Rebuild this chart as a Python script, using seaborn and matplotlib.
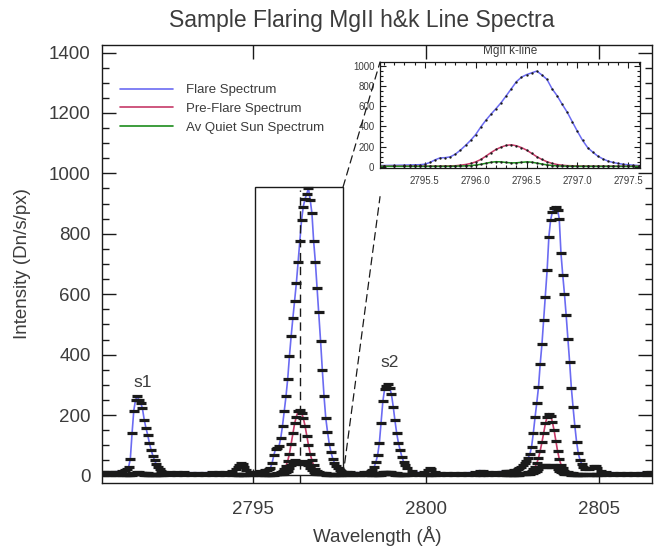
import matplotlib
matplotlib.use("Agg")
import matplotlib.pyplot as plt
from matplotlib.patches import Rectangle, ConnectionPatch
from matplotlib.ticker import MultipleLocator, FormatStrFormatter
import seaborn as sns

# wavelength samples (Angstrom)
wavelength = [
    2790.6, 2790.7, 2790.8, 2790.9, 2791.0, 2791.1, 2791.2, 2791.3,
    # s1
    2791.35, 2791.40, 2791.45, 2791.50, 2791.55, 2791.60, 2791.65, 2791.70, 2791.75, 2791.80, 2791.85,
    2791.90, 2791.95, 2792.00, 2792.05, 2792.10, 2792.15, 2792.20, 2792.25, 2792.30, 2792.35, 2792.40,
    2792.6, 2792.8, 2793.0, 2793.2, 2793.4, 2793.6, 2793.8, 2794.0, 2794.2, 2794.4,
    2794.50, 2794.55, 2794.60, 2794.65, 2794.70, 2794.75, 2794.80, 2794.90, 2795.00, 2795.10, 2795.20, 2795.30,
    # k line
    2795.35, 2795.40, 2795.45, 2795.50, 2795.55, 2795.60, 2795.65, 2795.70, 2795.75, 2795.80, 2795.85,
    2795.90, 2795.95, 2796.00, 2796.05, 2796.10, 2796.15, 2796.20, 2796.25, 2796.30, 2796.35, 2796.40,
    2796.45, 2796.50, 2796.55, 2796.60, 2796.65, 2796.70, 2796.75, 2796.80, 2796.85, 2796.90, 2796.95,
    2797.00, 2797.05, 2797.10, 2797.15, 2797.20, 2797.25, 2797.30, 2797.35, 2797.40, 2797.45, 2797.50,
    2797.55, 2797.60,
    2797.7, 2797.8, 2797.9, 2798.0, 2798.1, 2798.2, 2798.3, 2798.4,
    # s2
    2798.45, 2798.50, 2798.55, 2798.60, 2798.65, 2798.70, 2798.75, 2798.80, 2798.85, 2798.90, 2798.95,
    2799.00, 2799.05, 2799.10, 2799.15, 2799.20, 2799.25, 2799.30, 2799.35, 2799.40, 2799.45,
    2799.6, 2799.8, 2799.95, 2800.05, 2800.10, 2800.15, 2800.25, 2800.4, 2800.6, 2800.8, 2801.0, 2801.2,
    2801.4, 2801.55, 2801.65, 2801.8, 2802.0, 2802.2,
    # h line
    2802.30, 2802.35, 2802.40, 2802.45, 2802.50, 2802.55, 2802.60, 2802.65, 2802.70, 2802.75, 2802.80,
    2802.85, 2802.90, 2802.95, 2803.00, 2803.05, 2803.10, 2803.15, 2803.20, 2803.25, 2803.30, 2803.35,
    2803.40, 2803.45, 2803.50, 2803.55, 2803.60, 2803.65, 2803.70, 2803.75, 2803.80, 2803.85, 2803.90,
    2803.95, 2804.00, 2804.05, 2804.10, 2804.15, 2804.20, 2804.25, 2804.30, 2804.35, 2804.40, 2804.45,
    2804.50, 2804.55, 2804.60,
    2804.7, 2804.8, 2804.85, 2804.9, 2804.95, 2805.05, 2805.2, 2805.4, 2805.6, 2805.8, 2806.0, 2806.2,
    2806.4, 2806.5,
]

flare = [
    12, 12, 11, 11, 12, 13, 15, 18,
    20, 28, 55, 140, 215, 250, 262, 250, 240, 222, 185,
    158, 135, 108, 85, 66, 50, 37, 27, 20, 15, 13,
    11, 10, 10, 9, 9, 9, 10, 10, 11, 14,
    20, 28, 36, 41, 38, 28, 18, 12, 11, 12, 14, 16,
    17, 18, 20, 25, 42, 68, 88, 90, 98, 125, 165,
    212, 262, 320, 395, 462, 522, 578, 637, 705, 775, 845,
    890, 915, 932, 950, 912, 868, 775, 705, 620, 540, 445,
    350, 262, 190, 145, 105, 78, 56, 42, 32, 24, 19,
    15, 12,
    11, 10, 9, 9, 9, 10, 12, 15,
    18, 28, 45, 68, 108, 175, 245, 285, 295, 303, 290,
    268, 228, 182, 140, 108, 84, 62, 45, 33, 24,
    14, 9, 10, 18, 25, 20, 12, 9, 8, 8, 8, 9,
    10, 16, 14, 10, 11, 13,
    14, 14, 15, 15, 16, 17, 18, 21, 24, 28, 33,
    40, 48, 58, 70, 95, 140, 192, 240, 292, 370, 435,
    515, 590, 680, 790, 845, 872, 885, 890, 880, 850, 735,
    665, 602, 530, 453, 375, 290, 225, 165, 112, 73, 52,
    38, 28, 22,
    20, 24, 30, 32, 26, 14, 10, 9, 8, 8, 8, 9,
    10, 10,
]

pre_flare = [
    4, 4, 4, 4, 4, 5, 5, 5,
    5, 5, 6, 7, 8, 9, 10, 10, 9, 9, 8,
    7, 7, 6, 6, 5, 5, 5, 5, 4, 4, 4,
    4, 4, 4, 4, 4, 4, 4, 4, 4, 4,
    4, 4, 4, 5, 5, 4, 4, 4, 4, 4, 5, 5,
    5, 5, 5, 5, 5, 6, 6, 7, 8, 10, 15,
    22, 32, 48, 72, 105, 140, 172, 195, 212, 218, 208,
    190, 165, 132, 100, 72, 50, 33, 22, 15, 11, 9,
    8, 7, 7, 6, 6, 6, 5, 5, 5, 5, 5,
    5, 5,
    5, 5, 4, 4, 4, 4, 4, 5,
    5, 5, 6, 7, 8, 9, 10, 11, 12, 12, 11,
    10, 9, 8, 7, 6, 6, 5, 5, 5, 5,
    5, 4, 4, 5, 6, 5, 4, 4, 4, 4, 4, 4,
    4, 5, 5, 4, 4, 5,
    5, 5, 5, 5, 5, 5, 5, 6, 6, 7, 7,
    8, 9, 10, 12, 15, 20, 28, 40, 58, 82, 110,
    142, 172, 195, 205, 198, 178, 150, 115, 82, 55, 36,
    24, 16, 12, 10, 8, 7, 7, 6, 6, 6, 5,
    5, 5, 5,
    5, 5, 5, 5, 5, 5, 5, 4, 4, 4, 4, 4,
    4, 4,
]

quiet_sun = [
    3, 3, 3, 3, 3, 3, 3, 3,
    3, 3, 3, 3, 4, 4, 4, 4, 4, 4, 3,
    3, 3, 3, 3, 3, 3, 3, 3, 3, 3, 3,
    3, 3, 3, 3, 3, 3, 3, 3, 3, 3,
    3, 3, 3, 3, 3, 3, 3, 3, 3, 3, 3, 3,
    3, 3, 3, 3, 3, 3, 4, 4, 4, 5, 6,
    8, 11, 16, 24, 34, 44, 50, 48, 42, 38, 39,
    44, 48, 45, 36, 26, 18, 12, 8, 6, 5, 4,
    4, 4, 3, 3, 3, 3, 3, 3, 3, 3, 3,
    3, 3,
    3, 3, 3, 3, 3, 3, 3, 3,
    3, 3, 3, 3, 3, 3, 4, 4, 4, 4, 4,
    4, 4, 3, 3, 3, 3, 3, 3, 3, 3,
    3, 3, 3, 3, 3, 3, 3, 3, 3, 3, 3, 3,
    3, 3, 3, 3, 3, 3,
    3, 3, 3, 3, 3, 3, 3, 3, 3, 4, 4,
    4, 4, 5, 6, 7, 9, 12, 16, 22, 28, 33,
    35, 33, 29, 27, 29, 33, 34, 30, 22, 15, 10,
    7, 5, 4, 4, 4, 3, 3, 3, 3, 3, 3,
    3, 3, 3,
    3, 3, 3, 3, 3, 3, 3, 3, 3, 3, 3, 3,
    3, 3,
]

series_names = ["Flare Spectrum", "Pre-Flare Spectrum", "Av Quiet Sun Spectrum"]
series_colors = ["#6b6bf2", "#c63a68", "#1b8c1b"]

k_rest = 2796.35
zoom_box = (2795.05, 2797.6, 0, 955)   # x0, x1, y0, y1 of the zoomed region

sns.set_theme(style="ticks")
plt.rcParams["font.family"] = ["Liberation Sans", "DejaVu Sans"]
grey = "#3c3c3c"

fig = plt.figure(figsize=(6.6, 5.5), dpi=100)
ax = fig.add_axes([0.1545, 0.1218, 0.8333, 0.7964])

spectra = [flare, pre_flare, quiet_sun]

# main panel
for vals, name, col in zip(spectra, series_names, series_colors):
    sns.lineplot(x=wavelength, y=vals, ax=ax, color=col, lw=1.2, label=name, zorder=2)
for vals in spectra:
    ax.plot(wavelength, vals, ls="none", marker="_", ms=6.5, mew=2.3, color="k", zorder=3)

ax.set_xlim(2790.63, 2806.53)
ax.set_ylim(-25, 1425)
ax.xaxis.set_major_locator(MultipleLocator(5))
ax.yaxis.set_major_locator(MultipleLocator(200))
ax.yaxis.set_minor_locator(MultipleLocator(50))
ax.tick_params(which="both", direction="in", top=True, right=True, color="k", labelcolor=grey)
ax.tick_params(which="major", length=10, width=1)
ax.tick_params(which="minor", length=5, width=1)
ax.tick_params(axis="x", pad=13, labelsize=13.5)
ax.tick_params(axis="y", pad=8, labelsize=13.5)
for s in ax.spines.values():
    s.set_color("k")
    s.set_linewidth(1)

ax.set_xlabel("Wavelength (Å)", fontsize=13.5, color=grey, labelpad=6)
ax.set_ylabel("Intensity (Dn/s/px)", fontsize=13.5, color=grey, labelpad=13)
fig.text(0.548, 0.963, "Sample Flaring MgII h&k Line Spectra", ha="center", va="center",
         fontsize=16.5, color=grey)

ax.text(2791.82, 308, "s1", ha="center", va="center", fontsize=12.5, color=grey)
ax.text(2798.96, 374, "s2", ha="center", va="center", fontsize=12.5, color=grey)

leg = ax.legend(loc="upper left", bbox_to_anchor=(0.033, 0.911), frameon=False, fontsize=9.5,
                handlelength=4, handletextpad=1.0, labelspacing=0.5, borderpad=0, borderaxespad=0)
for t in leg.get_texts():
    t.set_color(grey)

x0, x1, y0, y1 = zoom_box
ax.add_patch(Rectangle((x0, y0), x1 - x0, y1 - y0, fill=False, ec="k", lw=1, zorder=4))
ax.vlines(k_rest, -25, 945, colors="k", linestyles=(0, (6, 4)), lw=1, zorder=4)

# inset: MgII k line
axins = fig.add_axes([0.5758, 0.6945, 0.394, 0.1927])
axins.set_facecolor("white")
for vals, col in zip(spectra, series_colors):
    sns.lineplot(x=wavelength, y=vals, ax=axins, color=col, lw=1.1, legend=False)
for vals in spectra:
    axins.plot(wavelength, vals, ls="none", marker="o", ms=1.7, mew=0, color="k")
axins.set_xlim(2795.06, 2797.615)
axins.set_ylim(-13, 1040)
axins.xaxis.set_major_locator(MultipleLocator(0.5))
axins.xaxis.set_minor_locator(MultipleLocator(0.1))
axins.xaxis.set_major_formatter(FormatStrFormatter("%.1f"))
axins.yaxis.set_major_locator(MultipleLocator(200))
axins.yaxis.set_minor_locator(MultipleLocator(50))
axins.tick_params(which="both", direction="in", top=True, right=True, color="k",
                  labelcolor=grey, labelsize=7, width=0.8)
axins.tick_params(which="major", length=4)
axins.tick_params(which="minor", length=2)
axins.tick_params(axis="x", pad=6)
axins.tick_params(axis="y", pad=4)
axins.set_xlabel("")
axins.set_ylabel("")
for s in axins.spines.values():
    s.set_color("k")
    s.set_linewidth(0.9)
axins.set_title("MgII k-line", fontsize=8.5, color=grey, pad=6)

# dashed connectors between the box and the inset
for xy_main, xy_ins in [((x1, y1), (0, 1)), ((x1, y0), (0, -0.27))]:
    con = ConnectionPatch(xyA=xy_main, coordsA=ax.transData, xyB=xy_ins, coordsB=axins.transAxes,
                          color="k", lw=0.9, linestyle=(0, (6, 4)))
    fig.add_artist(con)

fig.savefig("out.png", dpi=100)
